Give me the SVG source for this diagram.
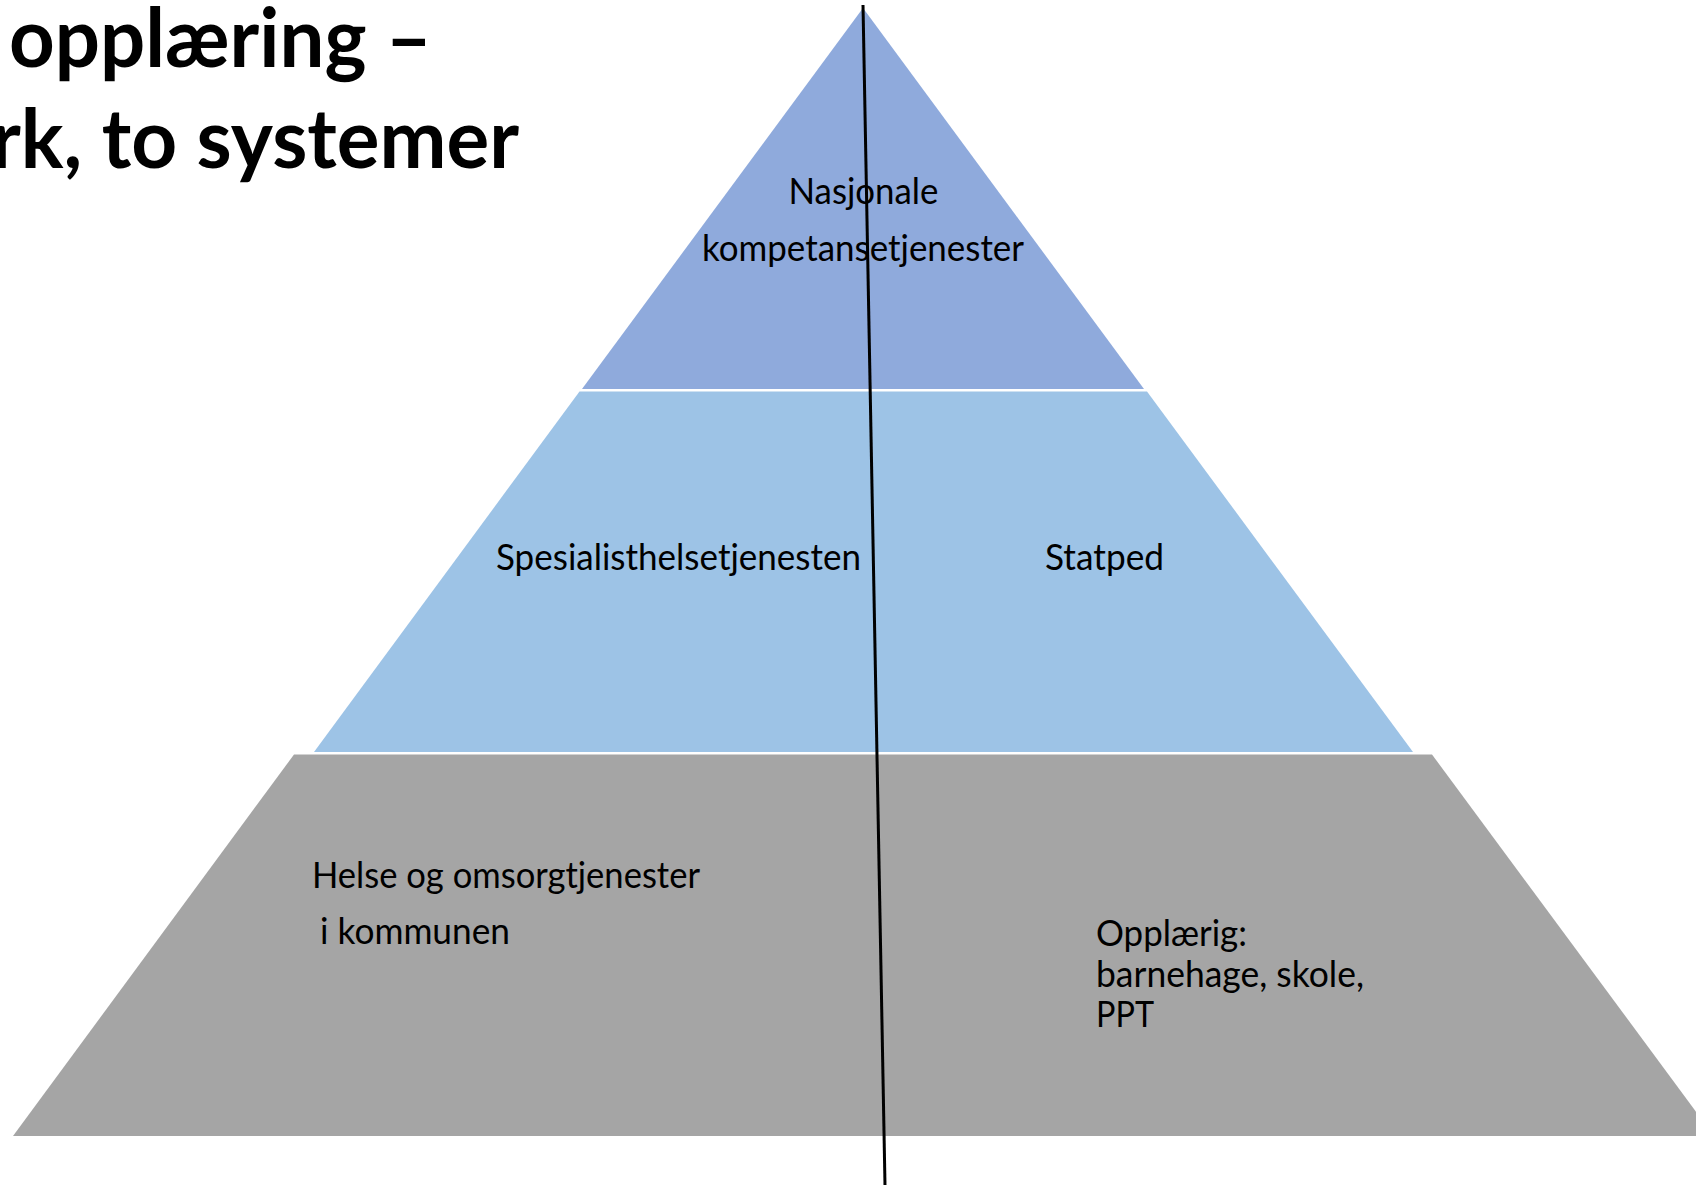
<svg xmlns="http://www.w3.org/2000/svg" width="1696" height="1185" viewBox="0 0 1696 1185">
<style>
.title{font-family:Lato,"Liberation Sans",sans-serif;font-weight:bold;font-size:82px;fill:#000}
.lbl{font-family:Lato,"Open Sans","Liberation Sans",sans-serif;font-size:36px;fill:#000}
</style>
<rect x="0" y="0" width="1696" height="1185" fill="#ffffff"/>
<g id="title">
<text class="title" x="9" y="67" textLength="423" lengthAdjust="spacingAndGlyphs">opplæring –</text>
<text class="title" x="-9" y="168" textLength="528" lengthAdjust="spacingAndGlyphs">rk, to systemer</text>
</g>
<g id="level-top">
<polygon points="863,8 1144,389 582,389" fill="#8FAADC"/>
<text class="lbl" x="863.5" y="204" text-anchor="middle" textLength="150" lengthAdjust="spacingAndGlyphs">Nasjonale</text>
<text class="lbl" x="863" y="261" text-anchor="middle" textLength="322" lengthAdjust="spacingAndGlyphs">kompetansetjenester</text>
</g>
<g id="level-middle">
<polygon points="579.5,391.5 1147,391.5 1413,752 314,752" fill="#9DC3E6"/>
<text class="lbl" x="496" y="570" textLength="365" lengthAdjust="spacingAndGlyphs">Spesialisthelsetjenesten</text>
<text class="lbl" x="1045" y="570" textLength="119" lengthAdjust="spacingAndGlyphs">Statped</text>
</g>
<g id="level-bottom">
<polygon points="294,754.5 1432,754.5 1714,1136 13,1136" fill="#A5A5A5"/>
<text class="lbl" x="312" y="888" textLength="388" lengthAdjust="spacingAndGlyphs">Helse og omsorgtjenester</text>
<text class="lbl" x="320" y="944" textLength="190" lengthAdjust="spacingAndGlyphs">i kommunen</text>
<text class="lbl" x="1096" y="946" textLength="151" lengthAdjust="spacingAndGlyphs">Opplærig:</text>
<text class="lbl" x="1096" y="987" textLength="268" lengthAdjust="spacingAndGlyphs">barnehage, skole,</text>
<text class="lbl" x="1096" y="1027" textLength="58" lengthAdjust="spacingAndGlyphs">PPT</text>
</g>
<g id="connectors">
<line x1="863" y1="5" x2="885" y2="1185" stroke="#000" stroke-width="3"/>
</g>
</svg>
